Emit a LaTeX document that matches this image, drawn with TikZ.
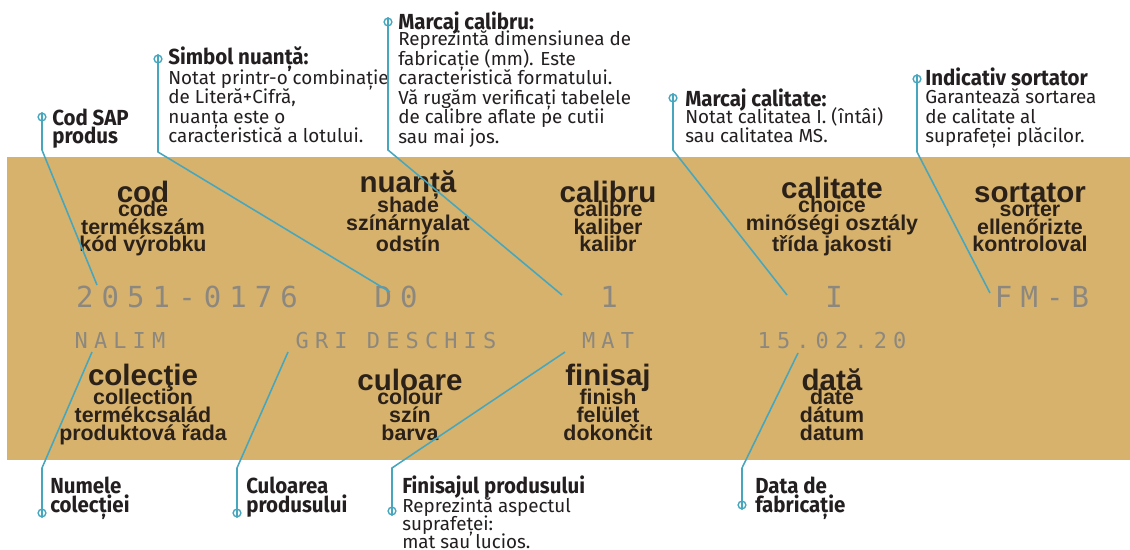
\documentclass[tikz,border=0pt]{standalone}
\usepackage{fontspec}
\setmainfont{Liberation Sans}
\newfontfamily\calfont[BoldFeatures={FakeStretch=0.94}]{Fira Sans}
\newfontfamily\valfont[LetterSpace=28]{DejaVu Sans Mono}
\definecolor{bandtan}{RGB}{214,178,108}
\definecolor{callblue}{RGB}{70,166,190}
\definecolor{valgrey}{RGB}{141,136,127}
\definecolor{inkbrown}{RGB}{43,33,25}
\definecolor{calink}{RGB}{35,31,32}
\newcommand{\tightlines}{\lineskiplimit-20pt\lineskip0pt\relax}
\tikzstyle{lbl}=[align=center, anchor=base, inner sep=0pt, text=inkbrown, font=\fontsize{15.2}{12.8}\selectfont\bfseries]
\tikzstyle{val}=[anchor=base, inner sep=0pt, text=valgrey]
\tikzstyle{callpt}=[circle, draw=callblue, line width=1pt, inner sep=0pt, minimum size=5.5pt]
\tikzstyle{ttl}=[anchor=base west, align=left, inner sep=0pt, text=calink, font={\calfont\fontsize{15.5}{13.5}\selectfont\bfseries\tightlines}]
\tikzstyle{txt}=[anchor=base west, align=left, inner sep=0pt, text=calink, font={\calfont\fontsize{13.4}{13.9}\selectfont\tightlines}]
\tikzstyle{ptr}=[draw=callblue, line width=1.1pt]
\newcommand{\callpt}{\node[callpt]}
\newcommand{\headfnt}{\fontsize{21}{12.8}\selectfont}

\begin{document}
\begin{tikzpicture}[x=0.025cm, y=-0.025cm]
\useasboundingbox (0,0) rectangle (1130,550);
\fill[bandtan] (7,157) rectangle (1130,460);
% labels on the band (anchored on their last line)
\foreach \x/\y/\a/\b/\c/\d in {143/252/cod/code/termékszám/kód výrobku, 408/252/nuanță/shade/színárnyalat/odstín,
	608/252/calibru/calibre/kaliber/kalibr, 832/252/calitate/choice/minőségi osztály/třída jakosti,
	1030/252/sortator/sorter/ellenőrizte/kontroloval, 143/440/colecţie/collection/termékcsalád/produktová řada,
	410/440/culoare/colour/szín/barva, 608/440/finisaj/finish/felület/dokončit, 832/440/dată/date/dátum/datum}{
	\node[lbl] at (\x,\y) {{\headfnt\a}\\[-3pt]\b\\\c\\\d};
	}
% printed values
\foreach \x/\t [count=\i] in {187/2051-0176, 396/D0, 609/1, 834/I, 1042/FM-B}{
	\node[val, font=\valfont\fontsize{20.6}{24}\selectfont] (va\i) at (\x,308) {\t};
	}
\foreach \x/\t [count=\i] in {120/NALIM, 396/GRI DESCHIS, 608/MAT, 832/15.02.20}{
	\node[val, font=\valfont\fontsize{15.6}{18}\selectfont] (vb\i) at (\x,348) {\t};
	}
% callouts above
\callpt (mcod) at (42,117){};
\callpt (msim) at (158,59){};
\callpt (mcalib) at (388,22){};
\callpt (mcalit) at (673,98){};
\callpt (msort) at (917,79){};
\node[ttl] (tcod) at (52,144) {Cod SAP\\produs};
\node[ttl] (tsim) at (168,65) {Simbol nuanță:};
\node[txt] (bsim) at (168,143) {Notat printr-o combinație\\de Literă+Cifră,\\nuanța este o\\caracteristică a lotului.};
\node[ttl] (tcalib) at (398,29.5) {Marcaj calibru:};
\node[txt] (bcalib) at (398,143.5) {Reprezintă dimensiunea de\\fabricație (mm). Este\\caracteristică formatului.\\Vă rugăm verificați tabelele\\de calibre aflate pe cutii\\sau mai jos.};
\node[ttl] (tcalit) at (685,107) {Marcaj calitate:};
\node[txt] (bcalit) at (685,143) {Notat calitatea I. (întâi)\\sau calitatea MS.};
\node[ttl] (tsort) at (925,86) {Indicativ sortator};
\node[txt] (bsort) at (925,143) {Garantează sortarea\\de calitate al\\suprafeței plăcilor.};
\coordinate (ecod) at (97,285);
\coordinate (esim) at (390,292);
\coordinate (ecalib) at (562,295);
\coordinate (ecalit) at (787,295);
\coordinate (esort) at (990,293);
\draw[ptr] (mcod.north) -- (mcod |- 0,150) -- (ecod);
\draw[ptr] (msim.north) -- (msim |- 0,152) -- (esim);
\draw[ptr] (mcalib.north) -- (mcalib |- 0,150) -- (ecalib);
\draw[ptr] (mcalit.north) -- (mcalit |- 0,150) -- (ecalit);
\draw[ptr] (msort.north) -- (msort |- 0,152) -- (esort);
% callouts below
\callpt (mnum) at (42,513){};
\callpt (mculo) at (237,513){};
\callpt (mfin) at (392,511){};
\callpt (mdata) at (742,505){};
\node[ttl] (tnum) at (50,512) {Numele\\colecției};
\node[ttl] (tculo) at (246,512) {Culoarea\\produsului};
\node[ttl] (tfin) at (402,493) {Finisajul produsului};
\node[txt, font={\calfont\fontsize{13.4}{12.8}\selectfont\tightlines}] (bfin) at (402,548) {Reprezintă aspectul\\suprafeței:\\mat sau lucios.};
\node[ttl] (tdata) at (755,512) {Data de\\fabricație};
\coordinate (enum) at (92,352);
\coordinate (eculo) at (288,352);
\coordinate (efin) at (565,352);
\coordinate (edata) at (798,353);
\draw[ptr] (mnum.south) -- (mnum |- 0,468) -- (enum);
\draw[ptr] (mculo.south) -- (mculo |- 0,468) -- (eculo);
\draw[ptr] (mfin.south) -- (mfin |- 0,468) -- (efin);
\draw[ptr] (mdata.south) -- (mdata |- 0,468) -- (edata);
\end{tikzpicture}
\end{document}
